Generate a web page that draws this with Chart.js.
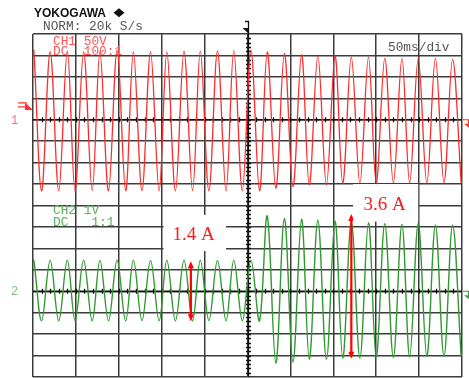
<!DOCTYPE html>
<html lang="en">
<head>
  <meta charset="UTF-8" />
  <title>CH1 / CH2 waveform</title>
  <script src="https://cdn.jsdelivr.net/npm/chart.js"></script>
  <style>
    html, body { margin: 0; padding: 0; background: #fff; }
    #wrap { position: relative; width: 469px; height: 378px; }
  </style>
</head>
<body>
  <div id="wrap"><canvas id="scope" width="469" height="378"></canvas></div>
  <script>
    // peak / trough times in ms (50 ms/div, 10 divisions)
    const tExtrema = [0,
      1, 10, 20, 30, 40, 49, 59, 69, 78, 88, 98, 108, 117, 127, 137, 147, 156, 166, 176, 186,
      195, 205, 215, 225, 234, 244, 254, 264, 273, 283, 293, 303, 313, 322, 332, 342, 352, 361,
      371, 381, 391, 400, 410, 420, 430, 439, 449, 459, 469, 479, 489, 499];

    // CH1 voltage (50 V/div)
    const ch1Volts = [158,
      162, -166, 158, -166, 160, -166, 158, -165, 158, -166, 162, -166, 158, -165, 158, -166,
      158, -166, 160, -165, 160, -166, 160, -166, 161, -166, 162, -166, 158, -160, 155, -156,
      152, -152, 149, -152, 149, -148, 146, -148, 146, -148, 143, -147, 143, -147, 143, -147,
      143, -147, 141, -147];

    // CH2 voltage (1 V/div, 1 V = 1 A)
    const ch2Volts = [1.42,
      1.45, -1.38, 1.44, -1.38, 1.45, -1.37, 1.45, -1.38, 1.44, -1.38, 1.45, -1.38, 1.45, -1.37,
      1.44, -1.38, 1.45, -1.38, 1.45, -1.38, 1.45, -1.37, 1.44, -1.38, 1.45, -1.38, 1.45, -1.38,
      3.51, -3.36, 3.40, -3.31, 3.36, -3.17, 3.31, -3.17, 3.28, -3.12, 3.23, -3.12, 3.20, -3.08,
      3.15, -3.08, 3.12, -3.08, 3.15, -3.03, 3.08, -3.03, 3.08, -3.03];

    // current callouts on CH2
    const arrowTimes = [184, 371];
    const arrowTop = [1.4, 3.6];
    const arrowBottom = [-1.4, -3.15];
    const arrowLabels = ['1.4 A', '3.6 A'];

    const RED = '#ff2b2b';
    const GREEN = '#2e9a2e';
    const GRID = '#3c3c3c';

    function arrowHead(ctx, x, y, dir) {
      ctx.beginPath();
      ctx.moveTo(x, y);
      ctx.lineTo(x - 3, y - dir * 7);
      ctx.lineTo(x + 3, y - dir * 7);
      ctx.closePath();
      ctx.fill();
    }

    const scopeOverlay = {
      id: 'scopeOverlay',
      beforeDraw(chart) {
        const ctx = chart.ctx;
        ctx.save();
        ctx.fillStyle = '#fff';
        ctx.fillRect(0, 0, chart.width, chart.height);
        ctx.restore();
      },
      beforeDatasetsDraw(chart) {
        const { ctx, chartArea: a, scales } = chart;
        const xs = scales.x, y1 = scales.y, y2 = scales.y2;
        ctx.save();
        ctx.strokeStyle = '#111';
        ctx.lineWidth = 1.3;
        // minor ticks on the two channel zero lines
        [y1.getPixelForValue(0), y2.getPixelForValue(0)].forEach(yc => {
          ctx.beginPath();
          ctx.moveTo(a.left, yc); ctx.lineTo(a.right, yc);
          for (let t = 10; t < 500; t += 10) {
            const px = Math.round(xs.getPixelForValue(t)) + 0.5;
            ctx.moveTo(px, yc - 2.5); ctx.lineTo(px, yc + 2.5);
          }
          ctx.stroke();
        });
        // minor ticks on the centre time line
        const xc = Math.round(xs.getPixelForValue(250)) + 0.5;
        ctx.beginPath();
        ctx.moveTo(xc, a.top); ctx.lineTo(xc, a.bottom);
        for (let v = -590; v < 200; v += 10) {
          const py = Math.round(y1.getPixelForValue(v)) + 0.5;
          ctx.moveTo(xc - 2.5, py); ctx.lineTo(xc + 2.5, py);
        }
        ctx.stroke();
        ctx.restore();
      },
      afterDatasetsDraw(chart) {
        const { ctx, scales } = chart;
        const xs = scales.x, y2 = scales.y2;
        ctx.save();

        // arrows
        ctx.strokeStyle = '#ff0000';
        ctx.fillStyle = '#ff0000';
        ctx.lineWidth = 2.2;
        arrowTimes.forEach((t, i) => {
          const x = xs.getPixelForValue(t);
          const yt = y2.getPixelForValue(arrowTop[i]);
          const yb = y2.getPixelForValue(arrowBottom[i]);
          ctx.beginPath();
          ctx.moveTo(x, yt + 5); ctx.lineTo(x, yb - 5);
          ctx.stroke();
          arrowHead(ctx, x, yt, -1);
          arrowHead(ctx, x, yb, 1);
        });

        // label boxes (time ms / CH2 volts)
        const boxes = [
          { t0: 152, t1: 225, v0: 3.56, v1: 1.88 },
          { t0: 373, t1: 449, v0: 5.0, v1: 3.25 }
        ];
        ctx.font = '19px "Liberation Serif", serif';
        ctx.textAlign = 'center';
        ctx.textBaseline = 'alphabetic';
        boxes.forEach((b, i) => {
          const x0 = xs.getPixelForValue(b.t0), x1 = xs.getPixelForValue(b.t1);
          const yA = y2.getPixelForValue(b.v0), yB = y2.getPixelForValue(b.v1);
          ctx.fillStyle = '#fff';
          ctx.fillRect(x0, yA, x1 - x0, yB - yA);
          ctx.fillStyle = '#ff1a1a';
          ctx.fillText(arrowLabels[i], (x0 + x1) / 2 - 1, (yA + yB) / 2 + 7);
        });
        ctx.restore();
      },
      afterDraw(chart) {
        const { ctx, chartArea: a, scales } = chart;
        const y1 = scales.y, y2 = scales.y2, xs = scales.x;
        ctx.save();

        // header
        ctx.fillStyle = '#111';
        ctx.font = 'bold 12px "Liberation Sans", sans-serif';
        ctx.textBaseline = 'alphabetic';
        ctx.fillText('YOKOGAWA', 34, 17.3);
        ctx.beginPath();
        ctx.moveTo(119, 8.3); ctx.lineTo(124.5, 12.8); ctx.lineTo(119, 17.3); ctx.lineTo(113.5, 12.8);
        ctx.closePath();
        ctx.fill();

        ctx.font = '12.8px "Liberation Mono", monospace';
        ctx.fillStyle = '#555';
        ctx.fillText('NORM: 20k S/s', 43, 29.5);
        ctx.fillText('50ms/div', 388, 50.5);

        // channel settings
        ctx.fillStyle = '#ff5555';
        ctx.fillText('CH1 50V', 53, 44.5);
        ctx.fillText('DC  100:1', 53, 54.5);
        ctx.fillStyle = '#55b055';
        ctx.fillText('CH2 1V', 53, 214);
        ctx.fillText('DC   1:1', 53, 226);

        // channel numbers on the left
        ctx.font = '12px "Liberation Mono", monospace';
        ctx.fillStyle = '#ff7070';
        ctx.fillText('1', 11, y1.getPixelForValue(0) + 4);
        ctx.fillStyle = '#80c080';
        ctx.fillText('2', 11, y2.getPixelForValue(0) + 4);

        // trigger level marker (CH1)
        const ty = y1.getPixelForValue(30);
        ctx.strokeStyle = '#ff3030';
        ctx.fillStyle = '#ff3030';
        ctx.lineWidth = 1.2;
        ctx.beginPath();
        ctx.moveTo(18, ty - 4); ctx.lineTo(26, ty - 4); ctx.lineTo(26, ty);
        ctx.moveTo(18, ty); ctx.lineTo(26, ty);
        ctx.stroke();
        ctx.beginPath();
        ctx.moveTo(25, ty - 4.5); ctx.lineTo(33, ty + 3); ctx.lineTo(25, ty + 3);
        ctx.closePath();
        ctx.fill();

        // zero markers on the right
        [[y1.getPixelForValue(0), '#ff3030'], [y2.getPixelForValue(0), '#3aa03a']].forEach(([py, c]) => {
          ctx.strokeStyle = c;
          ctx.fillStyle = c;
          ctx.lineWidth = 1.2;
          ctx.beginPath();
          ctx.moveTo(a.right + 1, py); ctx.lineTo(468.5, py); ctx.lineTo(468.5, py + 4.5);
          ctx.stroke();
          ctx.beginPath();
          ctx.moveTo(464, py + 4); ctx.lineTo(469, py + 4); ctx.lineTo(469, py + 8);
          ctx.closePath();
          ctx.fill();
        });

        // trigger position marker
        const xc = Math.round(xs.getPixelForValue(250)) + 0.5;
        ctx.strokeStyle = '#111';
        ctx.fillStyle = '#111';
        ctx.lineWidth = 1.3;
        ctx.beginPath();
        ctx.moveTo(xc, 21); ctx.lineTo(xc, a.top);
        ctx.moveTo(xc - 3.5, 21.5); ctx.lineTo(xc + 0.5, 21.5);
        ctx.stroke();
        ctx.beginPath();
        ctx.moveTo(xc - 6, 28); ctx.lineTo(xc + 0.5, 28); ctx.lineTo(xc + 0.5, 34);
        ctx.closePath();
        ctx.fill();

        ctx.restore();
      }
    };

    const gridOpts = { color: GRID, lineWidth: 1.5, drawTicks: false };

    new Chart(document.getElementById('scope'), {
      type: 'line',
      data: {
        datasets: [
          {
            label: 'CH1',
            data: tExtrema.map((t, i) => ({ x: t, y: ch1Volts[i] })),
            yAxisID: 'y',
            borderColor: RED,
            borderWidth: 1.3,
            pointRadius: 0,
            tension: 0.36
          },
          {
            label: 'CH2',
            data: tExtrema.map((t, i) => ({ x: t, y: ch2Volts[i] })),
            yAxisID: 'y2',
            borderColor: GREEN,
            borderWidth: 1.4,
            pointRadius: 0,
            tension: 0.36
          }
        ]
      },
      options: {
        responsive: false,
        animation: false,
        layout: { padding: { left: 33, top: 34, right: 7, bottom: 1 } },
        plugins: { legend: { display: false }, tooltip: { enabled: false } },
        scales: {
          x: {
            type: 'linear', min: 0, max: 500,
            ticks: { display: false, stepSize: 50 },
            grid: gridOpts,
            border: { display: false }
          },
          y: {
            min: -600, max: 200,
            ticks: { display: false, stepSize: 50 },
            grid: gridOpts,
            border: { display: false }
          },
          y2: { display: false, min: -4, max: 12 }
        }
      },
      plugins: [scopeOverlay]
    });
  </script>
</body>
</html>
